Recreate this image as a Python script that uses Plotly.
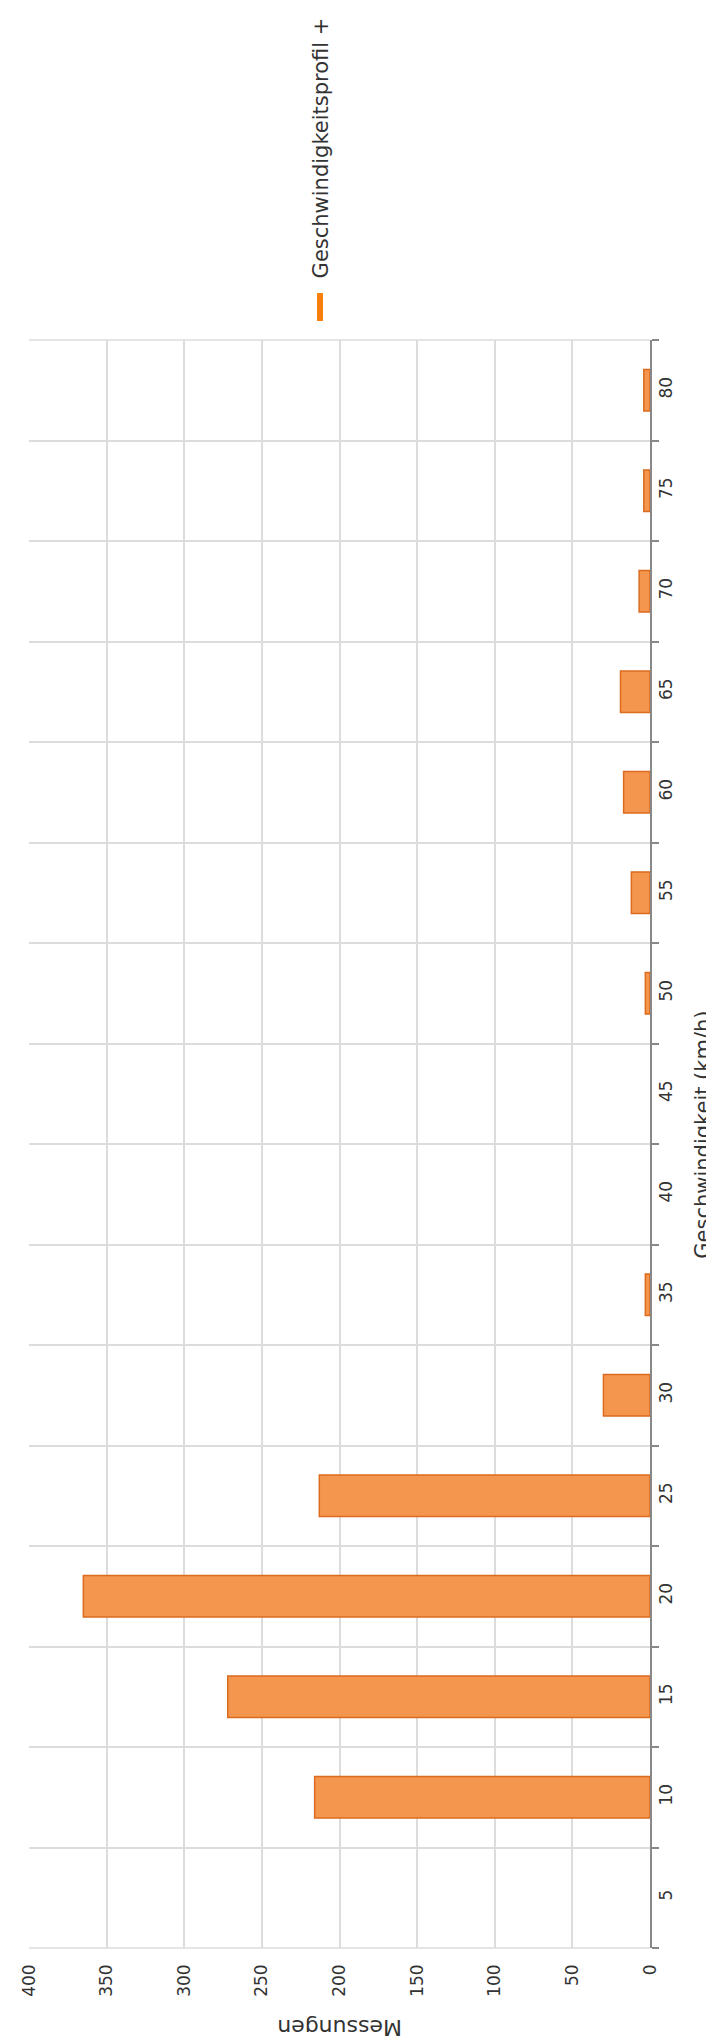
import plotly.graph_objects as go

categories = ["5", "10", "15", "20", "25", "30", "35", "40", "45", "50", "55", "60", "65", "70", "75", "80"]
messungen = [0, 216, 272, 365, 213, 30, 3, 0, 0, 3, 12, 17, 19, 7, 4, 4]
value_ticks = [0, 50, 100, 150, 200, 250, 300, 350, 400]

series_name = "Geschwindigkeitsprofil +"
x_title = "Geschwindigkeit (km/h)"
y_title = "Messungen"

FONT = "DejaVu Sans"
TXT = "#333333"
GRID = "#dcdcdc"
AXIS = "#888888"

# no outline for empty bars (nothing is drawn for zero counts)
line_widths = [1.5 if v > 0 else 0 for v in messungen]

fig = go.Figure()
fig.add_trace(go.Bar(
    y=categories,
    x=messungen,
    orientation="h",
    name=series_name,
    marker=dict(color="#f4964e", line=dict(color="#da6b1f", width=line_widths)),
    showlegend=False,
))

fig.update_layout(
    width=714,
    height=2042,
    margin=dict(l=21, r=72, t=332, b=102),
    paper_bgcolor="white",
    plot_bgcolor="white",
    font=dict(family=FONT, size=17, color=TXT),
    bargap=0.585,
    xaxis=dict(
        range=[400, 0],
        tickvals=value_ticks,
        ticktext=[str(v) for v in value_ticks],
        tickangle=-90,
        showgrid=True,
        gridcolor=GRID,
        gridwidth=1.5,
        zeroline=False,
        showline=False,
        ticks="",
        ticklabelstandoff=12,
        tickfont=dict(size=17, family=FONT, color=TXT),
    ),
    yaxis=dict(
        type="category",
        categoryorder="array",
        categoryarray=categories,
        side="right",
        showline=True,
        linecolor=AXIS,
        linewidth=2,
        ticks="outside",
        tickson="boundaries",
        ticklen=7,
        tickcolor=AXIS,
        tickwidth=2,
        tickangle=-90,
        showgrid=True,
        gridcolor=GRID,
        gridwidth=1.5,
        zeroline=False,
        tickfont=dict(size=17, family=FONT, color=TXT),
        range=[-0.5, len(categories) - 0.5],
    ),
    shapes=[
        dict(type="rect", xref="paper", yref="paper",
             x0=0.4638, x1=0.4734, y0=1.0118, y1=1.0292,
             fillcolor="#ff7f0e", line=dict(width=0)),
        dict(type="line", xref="paper", yref="paper",
             x0=0, x1=1, y0=1, y1=1, line=dict(color=GRID, width=1.5)),
        dict(type="line", xref="paper", yref="paper",
             x0=0, x1=1, y0=0, y1=0, line=dict(color=GRID, width=1.5)),
    ],
    annotations=[
        dict(text=series_name, xref="paper", yref="paper", x=0.470, y=1.0373,
             xanchor="center", yanchor="bottom", textangle=-90, showarrow=False,
             font=dict(size=21, family=FONT, color=TXT)),
        dict(text=x_title, xref="paper", yref="paper", x=1.086, y=0.506,
             xanchor="center", yanchor="middle", textangle=-90, showarrow=False,
             font=dict(size=21, family=FONT, color=TXT)),
        dict(text=y_title, xref="paper", yref="paper", x=0.5, y=-0.0498,
             xanchor="center", yanchor="middle", textangle=180, showarrow=False,
             font=dict(size=22, family=FONT, color=TXT)),
    ],
)

fig.write_html("out.html")
